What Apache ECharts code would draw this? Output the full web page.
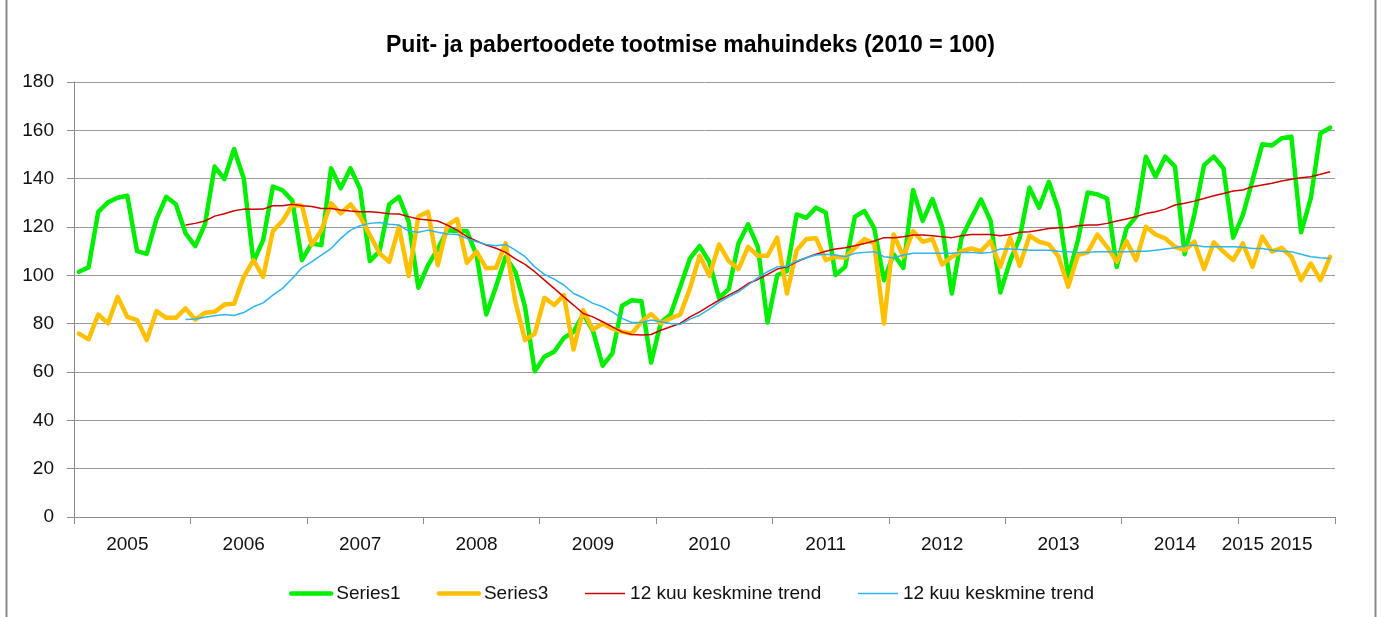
<!DOCTYPE html>
<html>
<head>
<meta charset="utf-8">
<script src="https://cdn.jsdelivr.net/npm/echarts@6/dist/echarts.min.js"></script>
<style>
  html, body { margin: 0; padding: 0; background: #fff; }
  #main { width: 1381px; height: 617px; }
</style>
</head>
<body>
<div id="main"></div>
<script>
// monthly index, Jan 2005 .. Oct 2015
const startYear = 2005;
const monthCount = 130;

const series1 = [
  101.5, 103.3, 126.3, 130.2, 132.1, 132.9, 110.0, 108.9, 123.3, 132.5, 129.4, 117.4,
  112.1, 121.1, 145.0, 139.8, 152.3, 140.1, 105.6, 114.6, 136.7, 135.2, 130.9, 106.3,
  113.2, 112.5, 144.3, 136.0, 144.3, 135.7, 105.9, 110.0, 129.4, 132.5, 122.2, 94.9,
  104.2, 110.9, 118.7, 118.3, 118.3, 108.4, 83.8, 95.3, 107.7, 101.5, 87.0, 60.3,
  66.3, 68.4, 74.1, 76.6, 84.0, 77.0, 62.6, 67.7, 87.4, 89.7, 89.3, 63.9,
  80.5, 83.8, 95.3, 107.0, 112.1, 105.6, 90.7, 94.3, 113.2, 121.1, 111.8, 80.5,
  100.1, 101.8, 125.2, 123.8, 128.0, 126.0, 100.1, 103.5, 124.3, 126.6, 119.4, 98.0,
  108.7, 103.1, 135.3, 122.5, 131.6, 120.1, 92.5, 115.6, 123.6, 131.4, 122.5, 92.9,
  105.9, 115.6, 136.3, 128.0, 138.7, 127.0, 99.4, 114.6, 134.3, 133.5, 131.8, 103.5,
  119.4, 124.3, 149.1, 140.8, 149.1, 145.0, 108.7, 125.2, 145.6, 149.1, 144.3, 115.6,
  124.9, 139.4, 154.2, 153.7, 156.7, 157.4, 117.8, 131.8, 158.8, 161.1
];

const series3 = [
  75.9, 73.5, 83.8, 80.1, 91.1, 82.8, 81.5, 73.2, 85.2, 82.4, 82.4, 86.3,
  81.7, 84.5, 84.9, 87.9, 88.2, 99.4, 106.3, 99.4, 118.3, 122.5, 129.1, 128.8,
  112.5, 118.7, 129.8, 125.6, 129.4, 124.3, 116.7, 109.1, 105.6, 120.1, 99.7, 124.3,
  126.3, 104.2, 120.8, 123.3, 105.2, 109.8, 102.9, 103.1, 113.2, 89.1, 73.2, 75.9,
  90.7, 87.7, 91.8, 69.3, 85.6, 77.5, 80.1, 78.0, 76.6, 75.9, 80.8, 84.0,
  80.1, 82.2, 83.8, 94.6, 108.1, 99.8, 112.8, 105.9, 102.6, 111.8, 108.1, 108.1,
  115.6, 92.5, 110.4, 115.0, 115.3, 106.3, 107.7, 107.3, 111.4, 115.0, 113.2, 80.1,
  116.9, 107.7, 118.3, 113.9, 115.0, 104.5, 107.7, 110.0, 111.1, 110.0, 114.2, 103.5,
  115.6, 104.0, 116.4, 113.9, 112.8, 107.7, 95.3, 108.4, 109.5, 116.9, 111.8, 105.6,
  114.2, 106.3, 120.1, 116.9, 115.3, 111.8, 110.4, 113.9, 102.6, 113.6, 109.8, 106.3,
  113.2, 103.5, 116.0, 109.8, 111.4, 107.7, 98.0, 104.9, 98.0, 107.7
];

// 12 month moving averages (first 11 months empty)
const trend1 = [
  null, null, null, null, null, null, null, null, null, null, null, 120.8,
  121.5, 122.5, 124.5, 125.5, 126.7, 127.4, 127.3, 127.4, 128.8, 128.8, 129.4, 128.8,
  128.5, 127.7, 127.7, 127.0, 126.6, 126.3, 126.3, 126.0, 125.5, 125.4, 124.3, 123.3,
  122.9, 122.5, 120.8, 118.7, 116.0, 114.2, 112.5, 111.2, 109.5, 106.8, 104.5, 101.5,
  98.0, 94.6, 91.1, 87.7, 84.2, 82.8, 80.8, 78.7, 76.6, 75.5, 75.3, 75.5,
  77.3, 78.7, 80.1, 82.8, 84.9, 87.4, 89.7, 91.8, 93.9, 96.6, 98.3, 100.4,
  102.6, 103.5, 105.6, 107.3, 108.7, 110.0, 110.9, 111.4, 112.2, 113.2, 114.2, 115.6,
  115.6, 116.0, 116.7, 116.7, 116.4, 116.0, 115.6, 116.4, 116.9, 116.9, 116.9, 116.4,
  116.9, 117.8, 118.0, 118.7, 119.4, 119.7, 119.8, 120.5, 120.8, 120.8, 121.5, 122.5,
  123.3, 124.3, 125.6, 126.3, 127.4, 129.1, 129.8, 130.7, 131.8, 132.9, 133.9, 134.9,
  135.3, 136.7, 137.4, 138.1, 139.0, 139.8, 140.4, 140.8, 141.8, 142.9
];

const trend3 = [
  null, null, null, null, null, null, null, null, null, null, null, 81.7,
  81.9, 82.7, 83.3, 83.8, 83.4, 84.6, 87.0, 88.6, 91.8, 94.6, 98.7, 103.1,
  105.6, 108.4, 111.1, 115.3, 118.7, 120.5, 121.5, 121.9, 121.1, 120.8, 118.3, 117.8,
  118.7, 117.8, 117.1, 116.9, 115.3, 113.9, 112.8, 112.2, 112.8, 110.4, 107.7, 103.5,
  100.4, 98.4, 96.0, 92.5, 90.7, 88.4, 87.0, 84.9, 82.2, 80.5, 80.5, 81.5,
  80.8, 80.1, 79.7, 81.9, 83.5, 86.0, 88.8, 91.1, 93.2, 96.0, 99.0, 101.5,
  103.5, 103.8, 105.9, 107.3, 108.4, 108.7, 108.4, 107.7, 109.1, 109.5, 109.8, 107.7,
  107.3, 108.4, 109.1, 109.1, 109.1, 109.1, 109.1, 109.5, 109.5, 109.1, 109.5, 110.9,
  110.9, 110.7, 110.4, 110.4, 110.4, 110.0, 109.8, 109.5, 109.5, 109.8, 109.8, 109.8,
  109.8, 110.0, 110.0, 110.4, 110.9, 111.4, 112.2, 112.5, 111.8, 111.8, 111.8, 111.8,
  111.6, 111.1, 111.1, 110.4, 110.0, 109.8, 108.7, 107.7, 107.3, 107.0
];

// where the year labels sit on the category axis
const yearLabelIdx = [5, 17, 29, 41, 53, 65, 77, 89, 101, 113, 120, 125];
const yearLabels = ['2005', '2006', '2007', '2008', '2009', '2010', '2011', '2012', '2013', '2014', '2015', '2015'];

const months = [];
for (let i = 0; i < monthCount; i++) {
  const y = startYear + Math.floor(i / 12);
  const m = (i % 12) + 1;
  months.push(y + '-' + (m < 10 ? '0' + m : m));
}

const font = '"Liberation Sans", Arial, sans-serif';
const green = '#00ee00';
const orange = '#ffc000';
const red = '#d00000';
const blue = '#2cb5ee';

const chart = echarts.init(document.getElementById('main'));

const option = {
  animation: false,
  textStyle: { fontFamily: font },
  title: {
    text: 'Puit- ja pabertoodete tootmise mahuindeks (2010 = 100)',
    left: 'center',
    top: 29,
    textStyle: { fontSize: 23, fontWeight: 'bold', color: '#000', fontFamily: font }
  },
  graphic: [
    {
      type: 'rect',
      shape: { x: 6.5, y: -5, width: 1369, height: 630 },
      style: { fill: 'none', stroke: '#8a8a8a', lineWidth: 2 },
      silent: true
    }
  ],
  legend: {
    top: 579,
    left: 284,
    itemWidth: 40,
    itemHeight: 14,
    itemGap: 36,
    itemStyle: { opacity: 0 },
    lineStyle: { width: 'inherit', color: 'inherit', opacity: 1 },
    textStyle: { fontSize: 19, color: '#111', fontFamily: font },
    data: ['Series1', 'Series3', '12 kuu keskmine trend', '12 kuu keskmine trend ']
  },
  grid: { left: 74, right: 46, top: 82, bottom: 100, containLabel: false },
  xAxis: {
    type: 'category',
    data: months,
    boundaryGap: true,
    axisLine: { lineStyle: { color: '#8c8c8c', width: 1 } },
    axisTick: {
      show: true,
      length: 7,
      interval: (idx) => idx % 12 === 0,
      lineStyle: { color: '#8c8c8c' }
    },
    axisLabel: {
      interval: (idx) => yearLabelIdx.indexOf(idx) >= 0,
      formatter: (val, idx) => {
        const k = yearLabelIdx.indexOf(idx);
        return k >= 0 ? yearLabels[k] : '';
      },
      margin: 18,
      fontSize: 19,
      color: '#111',
      fontFamily: font
    },
    splitLine: { show: false }
  },
  yAxis: {
    type: 'value',
    min: 0,
    max: 180,
    interval: 20,
    axisLine: { show: true, lineStyle: { color: '#8c8c8c', width: 1 } },
    axisTick: { show: true, length: 7, lineStyle: { color: '#8c8c8c' } },
    axisLabel: { margin: 20, fontSize: 19, color: '#111', fontFamily: font },
    splitLine: { lineStyle: { color: '#9a9a9a', width: 1 } }
  },
  series: [
    {
      name: 'Series1',
      type: 'line',
      data: series1,
      showSymbol: false,
      symbol: 'none',
      color: green,
      lineStyle: { width: 4.5, color: green, join: 'round', cap: 'round' }
    },
    {
      name: 'Series3',
      type: 'line',
      data: series3,
      showSymbol: false,
      symbol: 'none',
      color: orange,
      lineStyle: { width: 4.5, color: orange, join: 'round', cap: 'round' }
    },
    {
      name: '12 kuu keskmine trend',
      type: 'line',
      data: trend1,
      showSymbol: false,
      symbol: 'none',
      color: red,
      lineStyle: { width: 1.5, color: red }
    },
    {
      name: '12 kuu keskmine trend ',
      type: 'line',
      data: trend3,
      showSymbol: false,
      symbol: 'none',
      color: blue,
      lineStyle: { width: 1.5, color: blue }
    }
  ]
};

chart.setOption(option);
</script>
</body>
</html>
